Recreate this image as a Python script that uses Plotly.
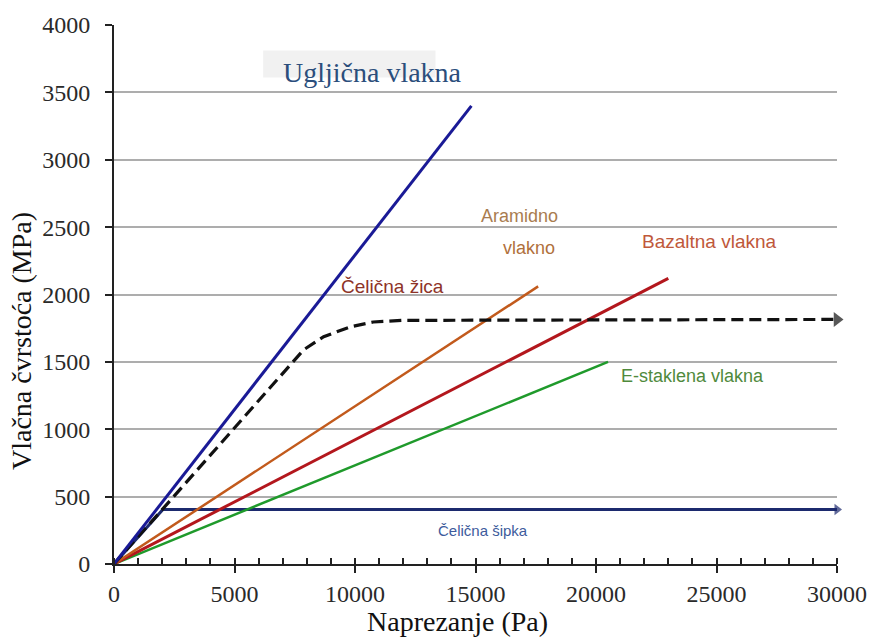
import plotly.graph_objects as go

# ---- data ----
carbon_x = [0, 14830]
carbon_y = [0, 3400]
wire_x = [0, 7300, 7870, 8700, 9800, 10760, 12000, 30000]
wire_y = [0, 1475, 1590, 1687, 1760, 1796, 1808, 1815]
aramid_x = [0, 17600]
aramid_y = [0, 2060]
basalt_x = [0, 23000]
basalt_y = [0, 2120]
glass_x = [0, 20500]
glass_y = [0, 1500]
bar_x = [0, 2030, 30000]
bar_y = [0, 405, 405]

x_ticks = [0, 5000, 10000, 15000, 20000, 25000, 30000]
y_ticks = [0, 500, 1000, 1500, 2000, 2500, 3000, 3500, 4000]

serif = "Liberation Serif, Times New Roman, serif"
sans = "Liberation Sans, Arial, sans-serif"

fig = go.Figure()

def arrow_sizes(n, s):
    return [0] * (n - 1) + [s]

fig.add_trace(go.Scatter(x=bar_x, y=bar_y, mode="lines+markers", cliponaxis=False,
                         line=dict(color="#1c2a6e", width=3),
                         marker=dict(symbol="triangle-right", size=arrow_sizes(len(bar_x), 10),
                                     color="#1c2a6e", line=dict(width=0)),
                         showlegend=False))
fig.add_trace(go.Scatter(x=glass_x, y=glass_y, mode="lines",
                         line=dict(color="#1f9a2b", width=2.5), showlegend=False))
fig.add_trace(go.Scatter(x=basalt_x, y=basalt_y, mode="lines",
                         line=dict(color="#b3171d", width=3), showlegend=False))
fig.add_trace(go.Scatter(x=aramid_x, y=aramid_y, mode="lines",
                         line=dict(color="#c25a1c", width=2.5), showlegend=False))
fig.add_trace(go.Scatter(x=wire_x, y=wire_y, mode="lines+markers", cliponaxis=False,
                         line=dict(color="#111111", width=3.2, dash="12px,6px"),
                         marker=dict(symbol="triangle-right", size=arrow_sizes(len(wire_x), 13),
                                     color="#111111", line=dict(width=0)),
                         showlegend=False))
fig.add_trace(go.Scatter(x=carbon_x, y=carbon_y, mode="lines",
                         line=dict(color="#1a1a96", width=3), showlegend=False))

fig.update_layout(
    width=872, height=637,
    margin=dict(l=114, r=35, t=25, b=73, autoexpand=False),
    paper_bgcolor="white", plot_bgcolor="white",
    xaxis=dict(range=[0, 30000], tickvals=x_ticks, ticktext=[str(v) for v in x_ticks],
               automargin=False,
               showgrid=False, zeroline=False, showline=True, linecolor="#222", linewidth=2,
               ticks="outside", ticklen=7, tickwidth=2, tickcolor="#222", ticklabelstandoff=0,
               minor=dict(dtick=1000, ticks="inside", ticklen=6, tickwidth=1.5, tickcolor="#222"),
               tickfont=dict(family=serif, size=24, color="#2a2a2a")),
    yaxis=dict(range=[0, 4000], tickvals=y_ticks, ticktext=[str(v) for v in y_ticks],
               automargin=False,
               showgrid=True, gridcolor="#adadad", gridwidth=1.5,
               zeroline=False, showline=True, linecolor="#222", linewidth=2,
               ticks="outside", ticklen=7, tickwidth=2, tickcolor="#222", ticklabelstandoff=10,
               tickfont=dict(family=serif, size=24, color="#2a2a2a")),
    xaxis2=dict(range=[0, 30000], overlaying="x", side="bottom", showticklabels=False,
                automargin=False,
                tickvals=x_ticks, ticks="inside", ticklen=7, tickwidth=2, tickcolor="#222",
                showgrid=False, zeroline=False, showline=False),
    yaxis2=dict(range=[0, 4000], overlaying="y", side="left", showticklabels=False,
                automargin=False,
                tickvals=y_ticks, ticks="inside", ticklen=7, tickwidth=2, tickcolor="#222",
                showgrid=False, zeroline=False, showline=False),
)

fig.add_shape(type="rect", xref="x", yref="y", x0=6190, x1=13340, y0=3610, y1=3810,
              fillcolor="#f1f1f1", line=dict(width=0), layer="below")

ann = [
    ("Ugljična vlakna", 10720, 3644, 28, "#2b4e7c", serif),
    ("Aramidno", 16830, 2583, 18, "#a97c4f", sans),
    ("vlakno", 17240, 2345, 18, "#b0703c", sans),
    ("Bazaltna vlakna", 24720, 2390, 19, "#c0583a", sans),
    ("Čelična žica", 11550, 2056, 19, "#8e3328", sans),
    ("E-staklena vlakna", 24010, 1395, 18, "#4f8a3c", sans),
    ("Čelična šipka", 15330, 252, 15, "#3d5b9c", sans),
]
for text, x, y, size, color, fam in ann:
    fig.add_annotation(text=text, xref="x", yref="y", x=x, y=y, showarrow=False,
                       font=dict(family=fam, size=size, color=color))

fig.add_annotation(text="Naprezanje (Pa)", xref="paper", yref="paper", x=0.475, y=-0.1076,
                   yanchor="middle", showarrow=False, font=dict(family=serif, size=28, color="#111"))
fig.add_annotation(text="Vlačna čvrstoća (MPa)", xref="paper", yref="paper", x=-0.127, y=0.414,
                   xanchor="center", yanchor="middle",
                   textangle=-90, showarrow=False, font=dict(family=serif, size=28, color="#111"))

fig.write_html("out.html", config={"displayModeBar": False},
               post_script="document.body.style.margin='0';")
